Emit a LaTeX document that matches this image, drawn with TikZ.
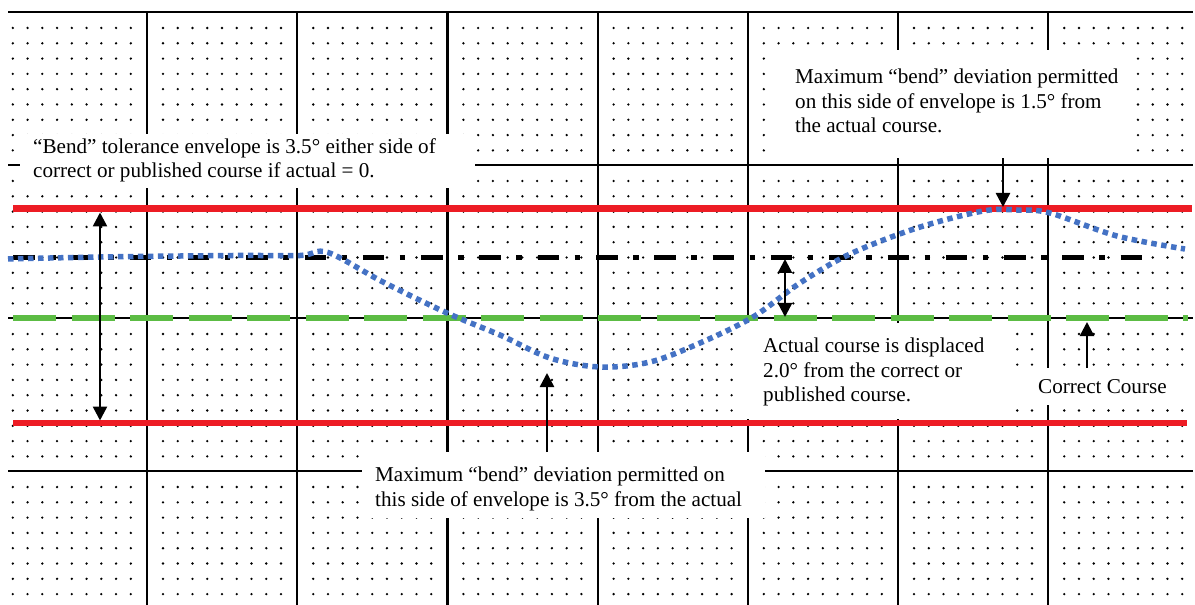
\documentclass[tikz,border=0pt]{standalone}
\usepackage{fontspec}
\setmainfont{Liberation Serif}
\usetikzlibrary{arrows.meta}
\definecolor{envred}{RGB}{237,28,36}
\definecolor{coursegreen}{RGB}{92,188,68}
\definecolor{bendblue}{RGB}{68,114,196}

\begin{document}
\begin{tikzpicture}[
  x=1bp, y=-1bp,
  >={Triangle[length=14bp,width=14bp]},
  every node/.style={font=\fontsize{21.2}{24.5}\selectfont, inner sep=0pt},
  major/.style={line width=2.2bp, black},
  envelope/.style={line width=6.5bp, envred},
  correct/.style={line width=6.5bp, coursegreen, dash pattern=on 43bp off 15.5bp},
  actual/.style={line width=5.5bp, black, dash pattern=on 21.5bp off 15.5bp on 5.5bp off 15.8bp},
  bendcourse/.style={line width=5.5bp, bendblue, dash pattern=on 5.5bp off 4.5bp},
  note/.style={fill=white, draw=none, anchor=north west},
  notetext/.style={anchor=base west, align=left},
  pointer/.style={->, line width=2.5bp},
  dblarrow/.style={<->, line width=2.5bp}
]
  \useasboundingbox (0,0) rectangle (1195,605);
  \clip (0,0) rectangle (1195,605);

  % Graph paper
  \foreach \k in {1,...,7}
    \draw[major] ({-3.2+150.2*\k},12) -- ({-3.2+150.2*\k},605);
  \foreach \j in {0,...,3}
    \draw[major] (8,{12+153*\j}) -- (1193,{12+153*\j});
  \foreach \k in {0,...,7}
    \foreach \j in {0,...,3}
      \foreach \i in {1,...,9}
        \foreach \m in {1,...,9}
          \fill ({-3.2+150.2*\k+16+14.75*(\i-1)},{12+153*\j+16+15.3*(\m-1)}) circle (1.3);

  % Text boxes
  \node[note, minimum width=455bp, minimum height=54bp] (boxA) at (20,134) {};
  \node[note, minimum width=363bp, minimum height=108bp] (boxC) at (772,50) {};
  \node[note, minimum width=261bp, minimum height=96bp] (boxD) at (744,323) {};
  \node[note, minimum width=173bp, minimum height=37bp] (boxCC) at (1015,368) {};
  \node[note, minimum width=403bp, minimum height=66bp] (boxE) at (362,452) {};

  % Envelope and courses
  \draw[envelope] (13,208.5) -- (1192,208.5);
  \draw[envelope] (13,423) -- (1187,423);
  \draw[correct] (13,318) -- (1188,318);
  \draw[actual] (13,257.5) -- (1145,257.5);
  \draw[bendcourse] plot[smooth, tension=0.55] coordinates {
    (8,259) (100,257) (233,255.5) (300,255.5) (328,252.5) (383,282)
    (447,313) (500,335) (550,358) (600,367) (650,362) (700,343)
    (753,317) (800,283) (850,254) (917,228) (983,211) (1017,210)
    (1050,213) (1117,236) (1185,249)};

  % Arrow ends
  \coordinate (envHi) at (100,212.5);
  \coordinate (envLo) at (100,420.5);
  \coordinate (peak) at (1003,207);
  \coordinate (trough) at (547,373);
  \coordinate (actualPt) at (785,259);
  \coordinate (correctPt) at (785,317);
  \coordinate (ccPt) at (1087,322);

  \draw[dblarrow] (envHi) -- (envLo);
  \draw[dblarrow] (actualPt) -- (correctPt);
  \draw[pointer] (boxC.south -| peak) -- (peak);
  \draw[pointer] (boxE.north -| trough) -- (trough);
  \draw[pointer] (boxCC.north -| ccPt) -- (ccPt);

  % Labels (base = last line)
  \node[notetext] (txtA) at (33,177.8) {“Bend” tolerance envelope is 3.5° either side of\\correct or published course if actual = 0.};
  \node[notetext] (txtC) at (795,132.7) {Maximum “bend” deviation permitted\\on this side of envelope is 1.5° from\\the actual course.};
  \node[notetext] (txtD) at (763,401.7) {Actual course is displaced\\2.0° from the correct or\\published course.};
  \node[notetext] (txtCC) at (1038,393) {Correct Course};
  \node[notetext] (txtE) at (375,506) {Maximum “bend” deviation permitted on\\this side of envelope is 3.5° from the actual};
\end{tikzpicture}
\end{document}
